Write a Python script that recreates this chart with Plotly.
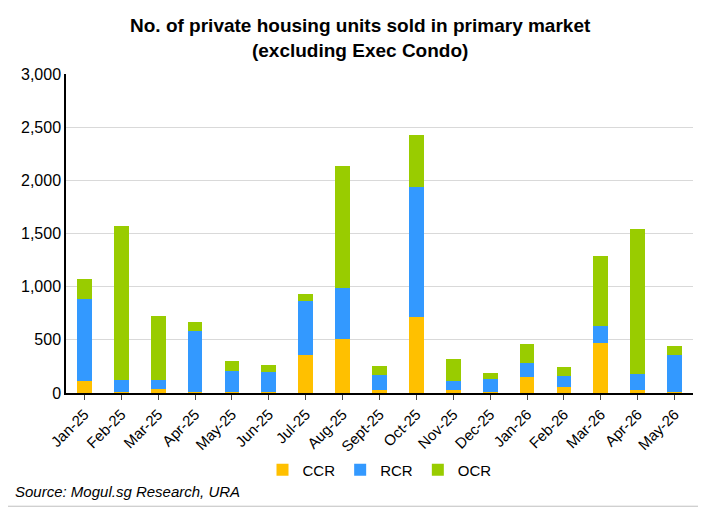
import plotly.graph_objects as go

months = ['Jan-25', 'Feb-25', 'Mar-25', 'Apr-25', 'May-25', 'Jun-25', 'Jul-25', 'Aug-25',
          'Sept-25', 'Oct-25', 'Nov-25', 'Dec-25', 'Jan-26', 'Feb-26', 'Mar-26', 'Apr-26', 'May-26']
ccr = [110, 12, 35, 9, 9, 9, 355, 508, 30, 715, 25, 12, 154, 56, 471, 25, 12]
rcr = [775, 107, 90, 571, 195, 189, 514, 477, 135, 1227, 85, 117, 125, 107, 157, 157, 343]
ocr = [191, 1453, 597, 91, 100, 66, 66, 1149, 87, 480, 207, 59, 185, 82, 665, 1362, 87]

fig = go.Figure()
for name, vals, col in [('CCR', ccr, '#FFC000'), ('RCR', rcr, '#3399FF'), ('OCR', ocr, '#99CC00')]:
    fig.add_trace(go.Bar(x=months, y=vals, name=name, marker=dict(color=col, line=dict(width=0))))

fig.update_layout(
    barmode='stack',
    bargap=0.6,
    width=706, height=509,
    paper_bgcolor='white', plot_bgcolor='white',
    font=dict(family='Liberation Sans, Arial', size=15, color='black'),
    margin=dict(l=58, r=21, t=66, b=124),
    legend=dict(orientation='h', x=0.5, xanchor='center', y=-0.19, yanchor='top',
                font=dict(size=15), traceorder='normal'),
    xaxis=dict(tickangle=-45, showline=True, linecolor='black', linewidth=1.5,
               ticks='outside', ticklen=5, tickfont=dict(size=15)),
    yaxis=dict(range=[0, 3000], dtick=500, tickformat=',', showgrid=True, gridcolor='#D9D9D9',
               showline=True, linecolor='black', linewidth=1.5, ticks='', tickfont=dict(size=16)),
    shapes=[dict(type='rect', xref='paper', yref='paper', x0=-0.1, x1=1.02, y0=-0.355, y1=1.225,
                 line=dict(color='#BFBFBF', width=1))],
    annotations=[
        dict(text='<b>No. of private housing units sold in primary market<br>(excluding Exec Condo)</b>',
             xref='paper', yref='paper', x=0.47, y=1.19, xanchor='center', yanchor='top',
             showarrow=False, font=dict(size=19)),
        dict(text='<i>Source: Mogul.sg Research, URA</i>', xref='paper', yref='paper',
             x=-0.085, y=-0.31, xanchor='left', yanchor='middle', showarrow=False,
             font=dict(size=15))],
)
fig.write_html('out.html')
